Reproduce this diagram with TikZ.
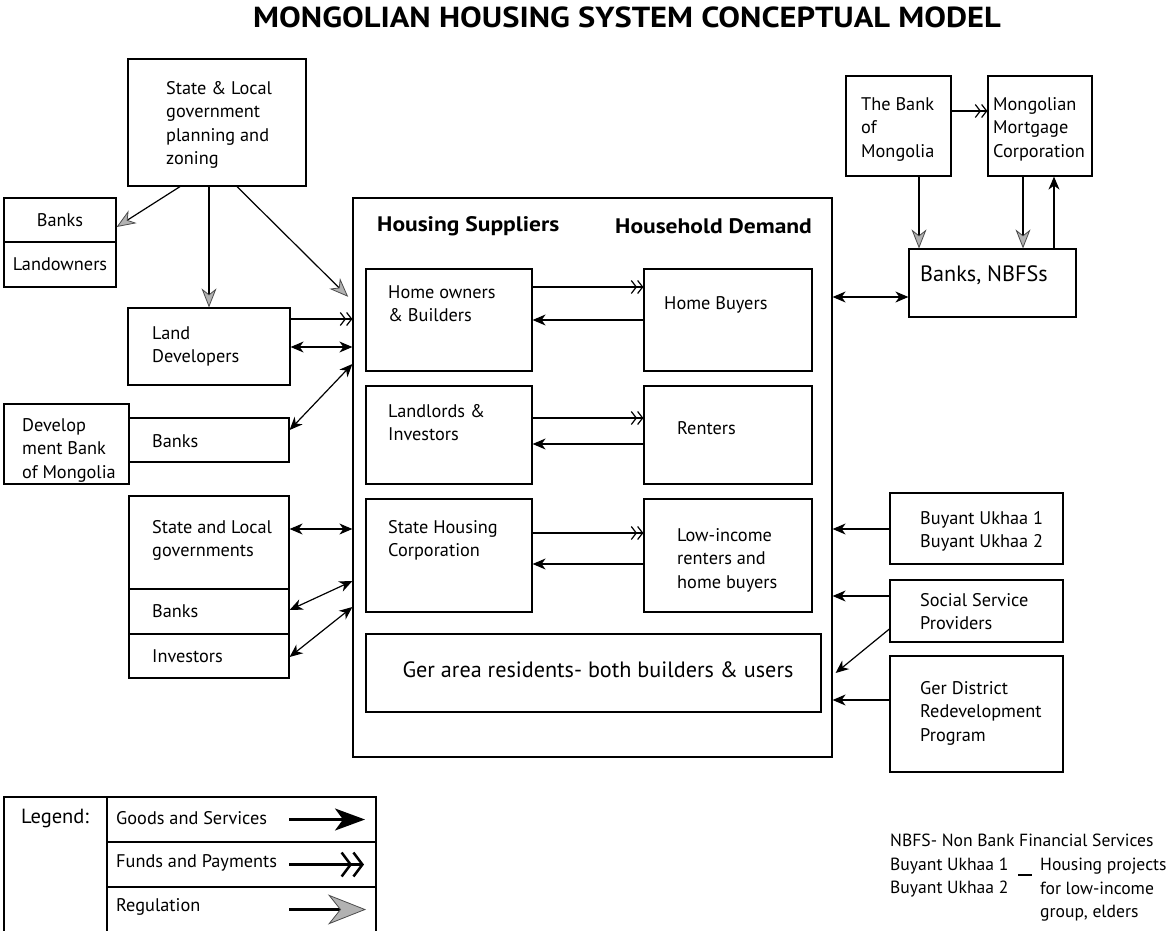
\documentclass[tikz,border=0pt]{standalone}
\usepackage{fontspec}
\setmainfont{PT Sans}
\usetikzlibrary{positioning, arrows.meta, fit, calc}

\newcommand{\widebf}[1]{\scalebox{1.12}[1]{\bfseries #1}}

\tikzset{
  box/.style={draw, line width=1.2pt, inner sep=0pt},
  txt/.style={inner sep=0pt, align=left, font=\fontsize{18.3}{23.5}\selectfont},
  notetxt/.style={inner sep=0pt, align=left, font=\fontsize{17.6}{23.5}\selectfont},
  bigtxt/.style={inner sep=0pt, font=\fontsize{22.2}{26}\selectfont},
  headtxt/.style={inner sep=0pt, font=\fontsize{21}{24}\selectfont},
  goods/.style={line width=1.2pt, -{Stealth[length=13pt,width=11pt,inset=4pt]}},
  goodsboth/.style={line width=1.2pt, {Stealth[length=13pt,width=11pt,inset=4pt]}-{Stealth[length=13pt,width=11pt,inset=4pt]}},
  funds/.style={line width=1.2pt, -{Straight Barb[length=5pt,width=13pt,line width=1.2pt]Straight Barb[length=5pt,width=13pt,line width=1.2pt]}},
  reg/.style={line width=1.2pt, -{Stealth[length=19pt,width=15pt,inset=6pt,fill=gray!60,color=black!70,line width=0.8pt]}},
}

\begin{document}
\begin{tikzpicture}[x=1pt, y=-1pt]
  \useasboundingbox (0,0) rectangle (1171,930);

  % ==========================================
  % TITLE
  % ==========================================
  \node[inner sep=0pt, font=\fontsize{29}{30}\selectfont] (title) at (627,17) {\widebf{MONGOLIAN HOUSING SYSTEM CONCEPTUAL MODEL}};

  % ==========================================
  % LEFT SIDE: planning, land, banks
  % ==========================================
  \node[box, fit={(128,59) (306,186)}] (plan) {};
  \node[txt, anchor=north west] (plantxt) at (166,81) {State \& Local\\government\\planning and\\zoning};

  \node[box, fit={(4,198) (116,242)}] (banksa) {};
  \node[box, fit={(4,242) (116,287)}] (landown) {};
  \node[txt] (banksatxt) at (banksa.center) {Banks};
  \node[txt] (landowntxt) at (landown.center) {Landowners};

  \node[box, fit={(128,308) (290,385)}] (landdev) {};
  \node[txt, anchor=north west] (landdevtxt) at (152,326) {Land\\Developers};

  \node[box, fit={(4,404) (129,484)}] (devbank) {};
  \node[txt, anchor=north west] (devbanktxt) at (22,418) {Develop\\ment Bank\\of Mongolia};
  \node[box, fit={(129,418) (289,462)}] (banksb) {};
  \node[txt, anchor=west] (banksbtxt) at (152,441) {Banks};

  \node[box, fit={(129,496) (289,589)}] (stategov) {};
  \node[txt, anchor=north west] (stategovtxt) at (152,520) {State and Local\\governments};
  \node[box, fit={(129,589) (289,634)}] (banksc) {};
  \node[txt, anchor=west] (bankstxt) at (152,611) {Banks};
  \node[box, fit={(129,634) (289,678)}] (investors) {};
  \node[txt, anchor=west] (investorstxt) at (152,656) {Investors};

  % ==========================================
  % CENTRE: housing market
  % ==========================================
  \node[box, fit={(353,198) (832,757)}] (house) {};
  \node[headtxt, anchor=west] (supply) at (377,226) {\widebf{Housing Suppliers}};
  \node[headtxt, anchor=west] (demand) at (615,226) {\widebf{Household Demand}};

  \node[box, fit={(366,269) (532,371)}] (owners) {};
  \node[txt, anchor=north west] (ownerstxt) at (388,285) {Home owners\\\& Builders};
  \node[box, fit={(644,269) (812,371)}] (buyers) {};
  \node[txt, anchor=west] (buyerstxt) at (664,305) {Home Buyers};

  \node[box, fit={(366,386) (532,484)}] (landlords) {};
  \node[txt, anchor=north west] (landlordstxt) at (388,404) {Landlords \&\\Investors};
  \node[box, fit={(644,386) (812,484)}] (renters) {};
  \node[txt, anchor=west] (renterstxt) at (677,428) {Renters};

  \node[box, fit={(366,499) (532,612)}] (statehouse) {};
  \node[txt, anchor=north west] (statehousetxt) at (388,520) {State Housing\\Corporation};
  \node[box, fit={(644,499) (812,612)}] (lowinc) {};
  \node[txt, anchor=north west] (lowinctxt) at (677,528) {Low-income\\renters and\\home buyers};

  \node[box, fit={(366,634) (821,712)}] (ger) {};
  \node[bigtxt] (gertxt) at (598,670) {Ger area residents- both builders \& users};

  % market flows
  \draw[funds] (owners.east |- 0,287) -- (buyers.west |- 0,287);
  \draw[goods] (buyers.west |- 0,320) -- (owners.east |- 0,320);
  \draw[funds] (landlords.east |- 0,418) -- (renters.west |- 0,418);
  \draw[goods] (renters.west |- 0,444) -- (landlords.east |- 0,444);
  \draw[funds] (statehouse.east |- 0,533) -- (lowinc.west |- 0,533);
  \draw[goods] (lowinc.west |- 0,564) -- (statehouse.east |- 0,564);

  % ==========================================
  % RIGHT SIDE: finance and programs
  % ==========================================
  \node[box, fit={(846,76) (951,176)}] (bom) {};
  \node[txt, anchor=north west] (bomtxt) at (861,97) {The Bank\\of\\Mongolia};
  \node[box, fit={(988,76) (1092,176)}] (mmc) {};
  \node[txt, anchor=north west] (mmctxt) at (993,97) {Mongolian\\Mortgage\\Corporation};
  \node[box, fit={(909,249) (1076,317)}] (nbfs) {};
  \node[bigtxt, anchor=west] (nbfstxt) at (920,275) {Banks, NBFSs};

  \node[box, fit={(890,493) (1063,564)}] (buyant) {};
  \node[txt, anchor=north west] (buyanttxt) at (920,511) {Buyant Ukhaa 1\\Buyant Ukhaa 2};
  \node[box, fit={(890,580) (1063,642)}] (social) {};
  \node[txt, anchor=north west] (socialtxt) at (920,593) {Social Service\\Providers};
  \node[box, fit={(890,656) (1063,772)}] (gerprog) {};
  \node[txt, anchor=north west] (gerprogtxt) at (920,681) {Ger District\\Redevelopment\\Program};

  % ==========================================
  % CONNECTORS
  % ==========================================
  % regulation
  \draw[reg] ([xshift=-37pt]plan.south) -- ([yshift=-7pt]banksa.east);
  \draw[reg] (plan.south -| landdev.north) -- (landdev.north);
  \draw[reg, shorten >=6pt] ([xshift=20pt]plan.south) -- (house.west |- 0,301);
  \draw[reg] (bom.south -| 919,0) -- (nbfs.north -| 919,0);
  \draw[reg] (mmc.south -| 1023,0) -- (nbfs.north -| 1023,0);

  % funds and goods, left
  \draw[funds] (landdev.east |- 0,319) -- (house.west |- 0,319);
  \draw[goodsboth] (landdev.east |- 0,347) -- (house.west |- 0,347);
  \draw[goodsboth] (banksb.east |- 0,430) -- (house.west |- 0,364);
  \draw[goodsboth] (stategov.east |- 0,529) -- (house.west |- 0,529);
  \draw[goodsboth] (banksc.east |- 0,610) -- (house.west |- 0,581);
  \draw[goodsboth] (investors.east |- 0,657) -- (house.west |- 0,607);

  % funds and goods, right
  \draw[funds] (bom.east |- 0,111) -- (mmc.west |- 0,111);
  \draw[goods] (nbfs.north -| 1054,0) -- (mmc.south -| 1054,0);
  \draw[goodsboth] (house.east |- 0,297) -- (nbfs.west |- 0,297);
  \draw[goods] (buyant.west |- 0,529) -- (house.east |- 0,529);
  \draw[goods] (social.west |- 0,596) -- (house.east |- 0,596);
  \draw[goods] (social.west |- 0,629) -- ([xshift=3pt]house.east |- 0,673);
  \draw[goods] (gerprog.west |- 0,700) -- (house.east |- 0,700);

  % ==========================================
  % LEGEND
  % ==========================================
  \node[box, fit={(4,797) (107,932)}] (legkey) {};
  \node[txt, font=\fontsize{20.5}{24}\selectfont, anchor=west] (legkeytxt) at (21,818) {Legend:};
  \node[box, fit={(107,797) (376,842)}] (leggoods) {};
  \node[box, fit={(107,842) (376,887)}] (legfunds) {};
  \node[box, fit={(107,887) (376,932)}] (legreg) {};
  \node[txt, anchor=west] (leggoodstxt) at (116,818) {Goods and Services};
  \node[txt, anchor=west] (legfundstxt) at (116,863) {Funds and Payments};
  \node[txt, anchor=west] (legregtxt) at (116,907) {Regulation};

  \draw[line width=2.5pt, -{Stealth[length=30pt,width=22pt,inset=8pt]}] (leggoods.west -| 289,0) -- (leggoods.east -| 365,0);
  \draw[line width=2.5pt, -{Straight Barb[length=9pt,width=24pt,line width=2.5pt]Straight Barb[length=9pt,width=24pt,line width=2.5pt]}] (legfunds.west -| 289,0) -- (legfunds.east -| 364,0);
  \draw[line width=2.5pt, -{Stealth[length=38pt,width=30pt,inset=12pt,fill=gray!60,color=black!70,line width=0.8pt]}] (legreg.west -| 289,0) -- (legreg.east -| 366,0);

  % ==========================================
  % NOTES
  % ==========================================
  \node[notetxt, anchor=north west] (notea) at (890,834) {NBFS- Non Bank Financial Services\\Buyant Ukhaa 1\\Buyant Ukhaa 2};
  \node[notetxt, anchor=north west] (noteb) at (1040,858) {Housing projects\\for low-income\\group, elders};
  \draw[line width=1.2pt] (1018,875) -- (1032,875);

\end{tikzpicture}
\end{document}
